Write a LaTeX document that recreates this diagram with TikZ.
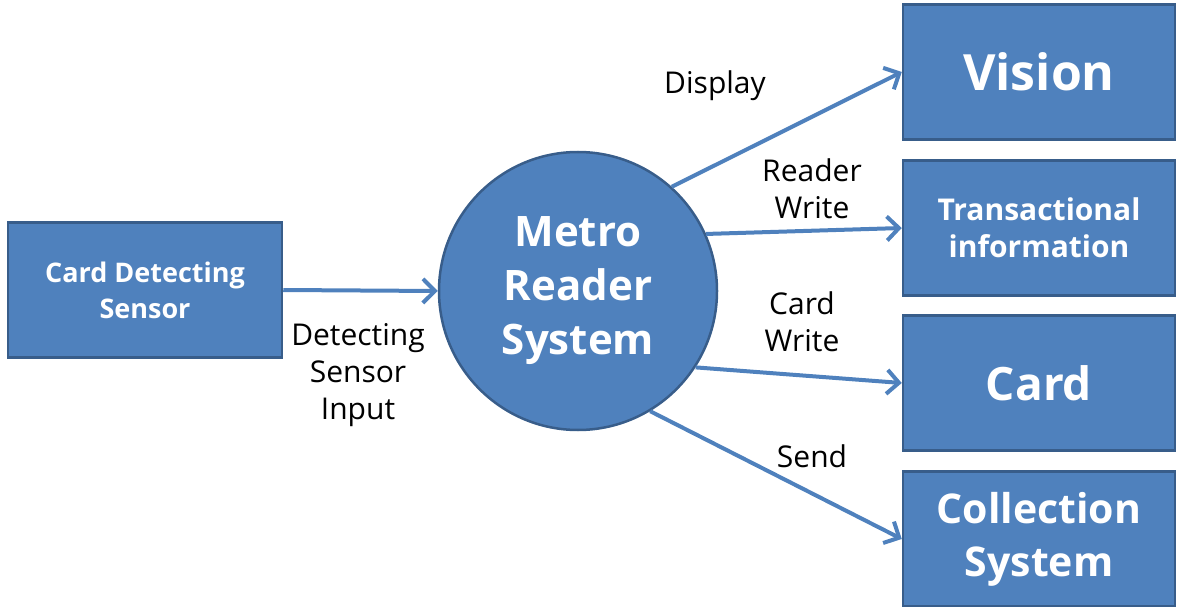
\documentclass[tikz,border=0pt]{standalone}
\usepackage{fontspec}
\setmainfont{Open Sans}
\usetikzlibrary{arrows.meta}
\definecolor{boxblue}{HTML}{4F81BD}
\definecolor{boxedge}{HTML}{385D8A}

\begin{document}
\begin{tikzpicture}[x=1pt,y=-1pt,
	>={Straight Barb[length=12pt,width=24pt]},
	blk/.style={
		draw=boxedge, fill=boxblue, line width=2.5pt, text=white,
		align=center, minimum width=272pt, minimum height=135pt, inner sep=0pt
	},
	flow/.style={->, draw=boxblue, line width=4pt},
	lbl/.style={align=center, font=\fontsize{30}{37}\selectfont}
]
\useasboundingbox (0,0) rectangle (1181,607);

% boxes
\node[blk, minimum width=274pt, font=\bfseries\fontsize{27}{36}\selectfont] (sensor) at (145,290) {Card Detecting\\Sensor};
\node[blk, circle, minimum size=278pt, font=\bfseries\fontsize{42}{54}\selectfont] (reader) at (578,291) {Metro\\Reader\\System};
\node[blk, font=\bfseries\fontsize{50}{54}\selectfont] (vision) at (1039,72) {Vision};
\node[blk, font=\bfseries\fontsize{30}{37}\selectfont] (trans) at (1039,228) {Transactional\\information};
\node[blk, font=\bfseries\fontsize{46}{54}\selectfont] (card) at (1039,383) {Card};
\node[blk, font=\bfseries\fontsize{41}{53}\selectfont] (collect) at (1039,539) {Collection\\System};

% labels
\node[lbl] (lsens) at (358,375) {Detecting\\Sensor\\Input};
\node[lbl] (ldisp) at (715,86) {Display};
\node[lbl] (lrw) at (812,189) {Reader\\Write};
\node[lbl] (lcw) at (802,322) {Card\\Write};
\node[lbl] (lsend) at (812,456) {Send};

% flows
\draw[flow] (sensor.east) -- (reader.west);
\draw[flow] (reader.48) -- (vision.west);
\draw[flow] (reader.24) -- (trans.west);
\draw[flow] (reader.-33) -- (card.west);
\draw[flow] (reader.-59) -- (collect.west);
\end{tikzpicture}
\end{document}
